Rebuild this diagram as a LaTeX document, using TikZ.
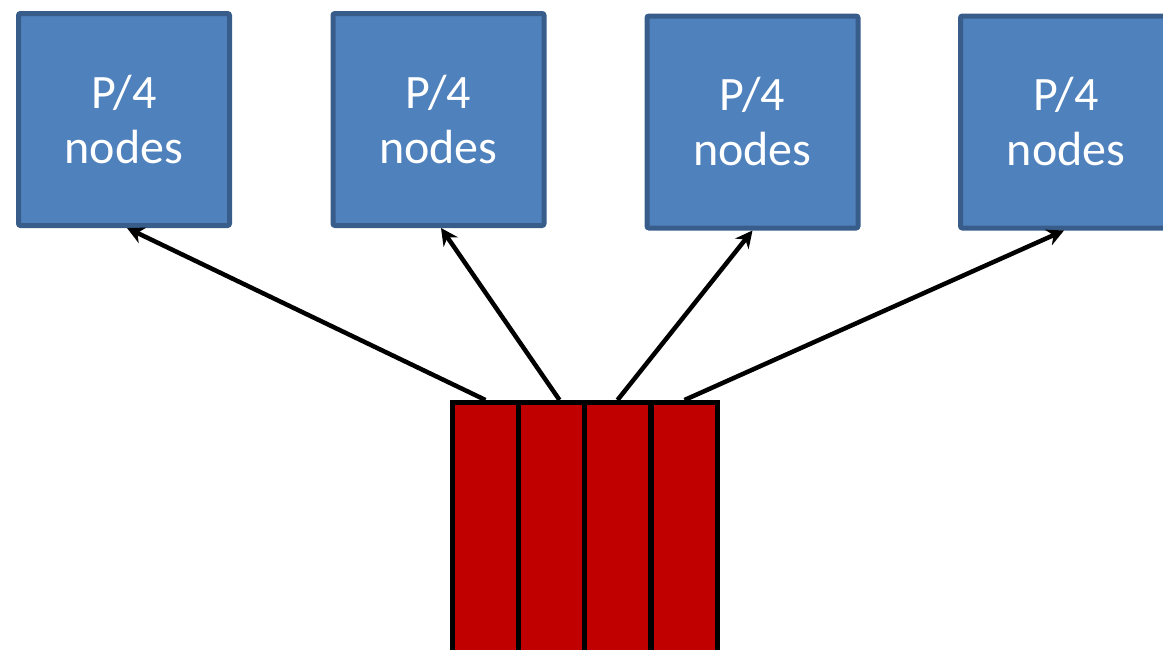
\documentclass[tikz,border=0pt]{standalone}
\usepackage{fontspec}
\setmainfont{Carlito}
\usetikzlibrary{arrows.meta,calc}
\definecolor{boxfill}{HTML}{4F81BD}
\definecolor{boxline}{HTML}{385D8A}
\definecolor{barfill}{HTML}{C00000}
\tikzset{
  pbox/.style={draw=boxline, fill=boxfill, line width=5pt, rounded corners=2pt,
    minimum width=211pt, minimum height=212pt, inner sep=0pt, text=white,
    align=center, font=\fontsize{48}{55}\selectfont},
  bar/.style={draw=black, fill=barfill, line width=5pt, minimum width=66pt,
    minimum height=300pt, inner sep=0pt, anchor=north},
  link/.style={line width=4.5pt, -{Stealth[length=17pt,width=17pt]}}
}
\begin{document}
\begin{tikzpicture}[x=1pt,y=-1pt]
\useasboundingbox (0,0) rectangle (1163,649);
\clip (0,0) rectangle (1163,649);
\node[pbox] (b1) at (124,119.5) {P/4\\nodes};
\node[pbox] (b2) at (438.5,119.5) {P/4\\nodes};
\node[pbox] (b3) at (752.5,122) {P/4\\nodes};
\node[pbox] (b4) at (1066,122) {P/4\\nodes};
\node[bar] (r1) at (485.5,400) {};
\node[bar] (r2) at (551.5,400) {};
\node[bar] (r3) at (617.5,400) {};
\node[bar] (r4) at (684.5,400) {};
\coordinate (s2) at ($(r2.north)+(8,0)$);
\draw[link] (r1.north) -- ($(b1.south)+(3,0)$);
\draw[link] (s2) -- ($(b2.south)+(2.5,0)$);
\draw[link] (r3.north) -- (b3.south);
\draw[link] (r4.north) -- ($(b4.south)+(-2,0)$);
\end{tikzpicture}
\end{document}
